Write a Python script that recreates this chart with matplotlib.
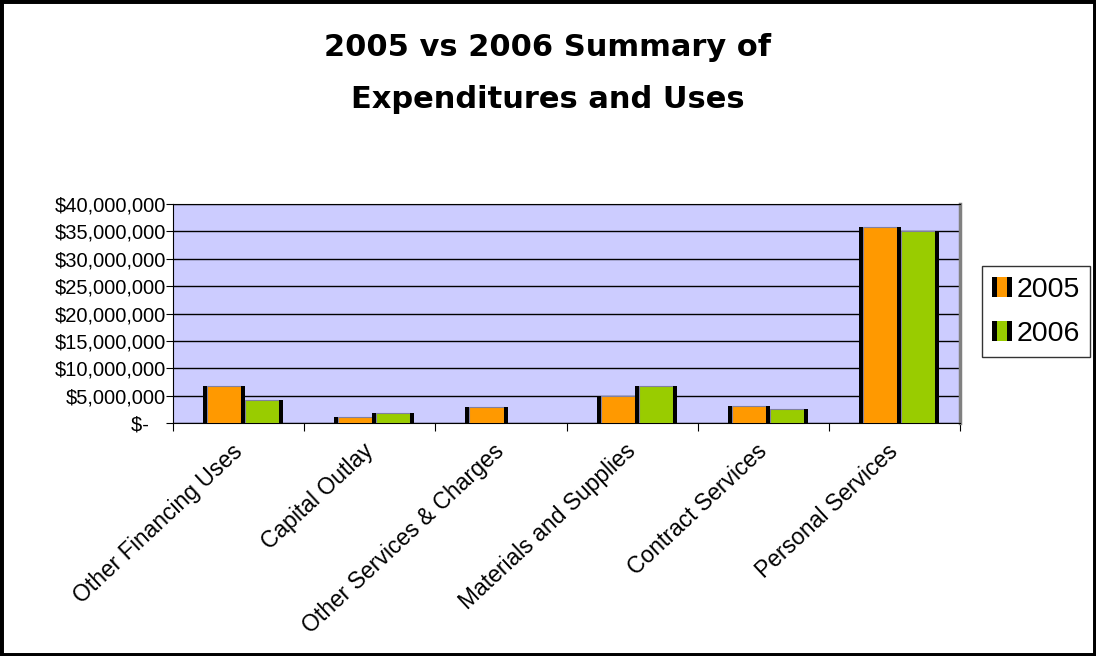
import numpy as np
import matplotlib.pyplot as plt
from matplotlib.patches import Rectangle
from matplotlib.legend_handler import HandlerBase
from matplotlib.ticker import FuncFormatter

categories = ["Other Financing Uses", "Capital Outlay", "Other Services & Charges",
              "Materials and Supplies", "Contract Services", "Personal Services"]
y2005 = [6.8e6, 1.1e6, 2.9e6, 5.0e6, 3.2e6, 35.8e6]
y2006 = [4.3e6, 1.8e6, 0.0, 6.8e6, 2.5e6, 35.0e6]
series_names = ["2005", "2006"]
colors = ["#FF9900", "#99CC00"]

plt.rcParams['font.family'] = ['Liberation Sans', 'DejaVu Sans']

fig = plt.figure(figsize=(10.96, 6.56), dpi=100)
fig.patches.append(Rectangle((0, 0), 1, 1, transform=fig.transFigure, fill=False,
                             edgecolor="black", linewidth=5, zorder=10))

ax = fig.add_axes([0.158, 0.355, 0.718, 0.334])
ax.set_facecolor("#CCCCFF")

x = np.arange(len(categories))
cw = 0.26     # coloured part of a bar
d = 0.0305    # black side strip
shift = 0.034
series = [y2005, y2006]
for i, (vals, col) in enumerate(zip(series, colors)):
    pos = x + shift + (i - 0.5) * (cw + d)
    ax.bar(pos, vals, width=cw, color=col, edgecolor="#8080A0", linewidth=0.8, zorder=3)
    ax.bar(pos - (cw + d) / 2, vals, width=d, color="black", zorder=4)
    ax.bar(pos + (cw + d) / 2, vals, width=d, color="black", zorder=4)

ax.set_xlim(-0.5, len(categories) - 0.5)
ax.set_ylim(0, 40e6)
ax.set_yticks(np.arange(0, 40e6 + 1, 5e6))
ax.yaxis.set_major_formatter(FuncFormatter(
    lambda v, p: "$-   " if v == 0 else "${:,.0f}".format(v)))
ax.grid(axis="y", color="black", linewidth=1, zorder=1)
ax.set_axisbelow(True)

ax.set_xticks(np.arange(len(categories) + 1) - 0.5)
ax.set_xticklabels([])
ax.set_xticks(x, minor=True)
ax.set_xticklabels(categories, minor=True, rotation=43, ha="right", va="center",
                   rotation_mode="anchor", fontsize=16.5)
ax.tick_params(axis="x", which="minor", length=0, pad=18)
ax.tick_params(axis="x", which="major", length=6, direction="out", color="black")
ax.tick_params(axis="y", length=5, direction="out", labelsize=14.5, pad=0)

ax.spines["top"].set_color("black")
ax.spines["right"].set_color("#808080")
ax.spines["right"].set_linewidth(2.5)
for s in ["left", "bottom"]:
    ax.spines[s].set_color("black")


class BarHandler(HandlerBase):
    def __init__(self, color):
        super().__init__()
        self.color = color

    def create_artists(self, legend, orig_handle, xdescent, ydescent, width, height, fontsize, trans):
        h = 20 * 72 / 100
        y0 = -ydescent + (height - h) / 2
        x0 = -xdescent
        black = Rectangle((x0, y0), width, h, facecolor="black", edgecolor="none", transform=trans)
        inner = Rectangle((x0 + width * 0.25, y0), width * 0.5, h, facecolor=self.color,
                          edgecolor="none", transform=trans)
        return [black, inner]


handles = [Rectangle((0, 0), 1, 1, color=c) for c in colors]
leg = fig.legend(handles, series_names, loc="upper left", bbox_to_anchor=(982 / 1096, 1 - 266 / 656),
                 borderaxespad=0, fontsize=20.5, frameon=True, fancybox=False, edgecolor="black",
                 handler_map={handles[0]: BarHandler(colors[0]), handles[1]: BarHandler(colors[1])},
                 handlelength=0.7, handleheight=0.8, handletextpad=0.15, labelspacing=0.6,
                 borderpad=0.36)
leg.get_frame().set_linewidth(1)

fig.text(0.5, 0.927, "2005 vs 2006 Summary of", ha="center", va="center",
         fontsize=22, fontweight="bold", family="DejaVu Sans")
fig.text(0.5, 0.848, "Expenditures and Uses", ha="center", va="center",
         fontsize=22, fontweight="bold", family="DejaVu Sans")

fig.savefig("out.png", dpi=100)
